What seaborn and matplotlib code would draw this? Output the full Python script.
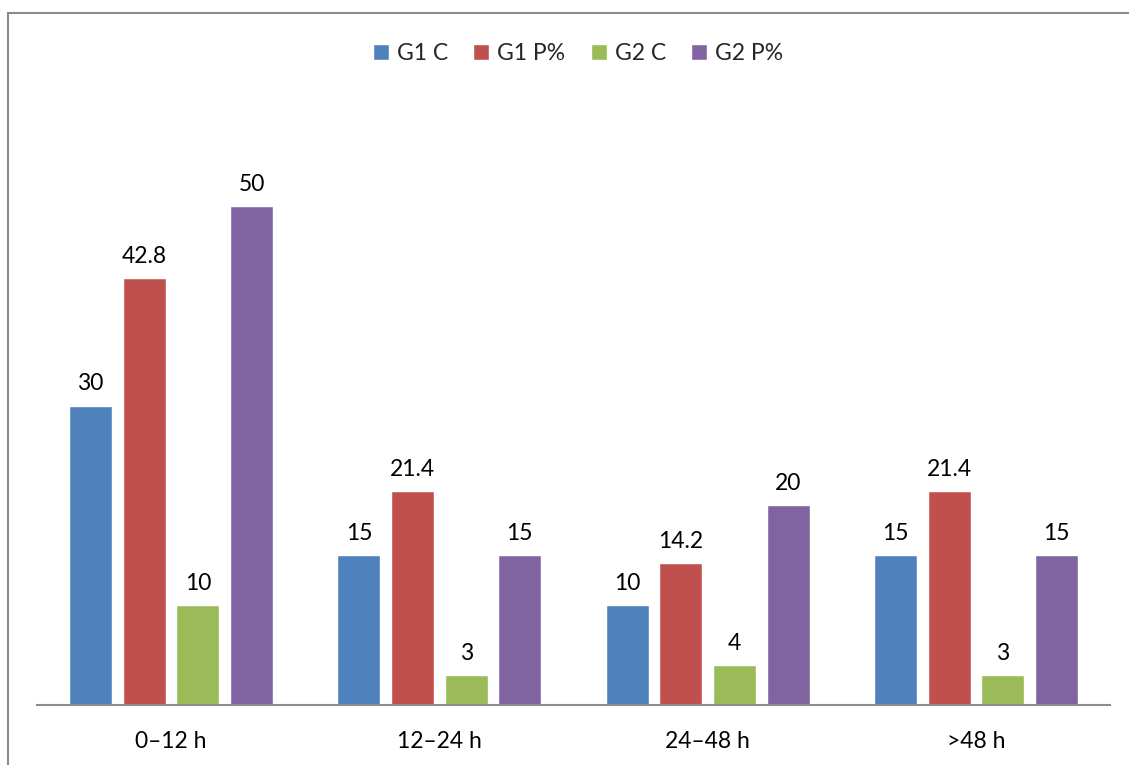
import pandas as pd
import matplotlib.pyplot as plt
import seaborn as sns
from matplotlib.patches import Rectangle


# ==========================================================
# DATA
# ==========================================================

categories = ["0–12 h", "12–24 h", "24–48 h", ">48 h"]
series_names = ["G1 C", "G1 P%", "G2 C", "G2 P%"]

g1_c = [30, 15, 10, 15]
g1_p = [42.8, 21.4, 14.2, 21.4]
g2_c = [10, 3, 4, 3]
g2_p = [50, 15, 20, 15]

colors = ["#4F81BD", "#C0504D", "#9BBB59", "#8064A2"]

rows = []
for name, vals in zip(series_names, [g1_c, g1_p, g2_c, g2_p]):
    for cat, v in zip(categories, vals):
        rows.append({"interval": cat, "series": name, "value": v})
df = pd.DataFrame(rows)


# ==========================================================
# PLOT
# ==========================================================

sns.set_theme(style="white")
plt.rcParams["font.family"] = ["Lato", "DejaVu Sans"]

FS = 16.5
W, H = 1129, 765
fig = plt.figure(figsize=(W / 100, H / 100), dpi=100)
ax = fig.add_axes([37 / W, (H - 705) / H, (1110 - 37) / W, (705 - 106) / H])

sns.barplot(
    data=df, x="interval", y="value", hue="series",
    order=categories, hue_order=series_names,
    palette=colors, width=0.8, gap=0.2,
    saturation=1, errorbar=None, ax=ax,
)

for cont in ax.containers:
    ax.bar_label(cont, labels=[f"{b.get_height():g}" for b in cont],
                 padding=8, fontsize=FS, color="black")

ax.set_ylim(0, 60)
ax.set_xlim(-0.5, len(categories) - 0.5)
ax.set_xlabel("")
ax.set_ylabel("")
ax.set_yticks([])
ax.tick_params(axis="x", length=0, labelsize=FS, pad=19, colors="black")
for s in ["top", "right", "left"]:
    ax.spines[s].set_visible(False)
ax.spines["bottom"].set_color("#8c8c8c")
ax.spines["bottom"].set_linewidth(1.5)

handles, labels = ax.get_legend_handles_labels()
ax.legend_.remove()
fig.legend(handles, labels, loc="center", bbox_to_anchor=(0.512, 0.93),
           ncol=4, frameon=False, fontsize=FS,
           handlelength=0.7, handleheight=0.7,
           handletextpad=0.35, columnspacing=1.1)

# chart border (left and top visible)
fig.patches.append(Rectangle((8 / W, -0.2), 1.3, (H - 13) / H + 0.2,
                             transform=fig.transFigure, fill=False,
                             edgecolor="#8c8c8c", linewidth=1.5))

fig.savefig("out.png", dpi=100)
